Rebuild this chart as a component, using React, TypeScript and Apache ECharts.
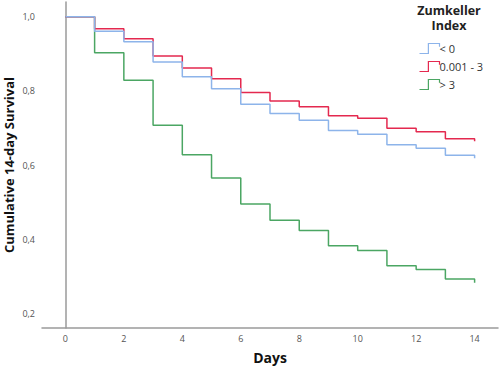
import React, { useEffect, useRef } from "react";
import * as echarts from "echarts";

const days = [0, 1, 2, 3, 4, 5, 6, 7, 8, 9, 10, 11, 12, 13, 14];
const seriesNames = ["< 0", "0.001 - 3", "> 3"];
const survivalNeg = [1.0, 0.961, 0.933, 0.878, 0.838, 0.806, 0.764, 0.739, 0.721, 0.693, 0.683, 0.655, 0.645, 0.626, 0.618];
const survivalMid = [1.0, 0.968, 0.941, 0.894, 0.862, 0.833, 0.796, 0.773, 0.757, 0.733, 0.726, 0.699, 0.69, 0.671, 0.664];
const survivalHigh = [1.0, 0.903, 0.829, 0.707, 0.628, 0.565, 0.495, 0.451, 0.423, 0.382, 0.369, 0.328, 0.318, 0.292, 0.282];
const xTicks = [0, 2, 4, 6, 8, 10, 12, 14];
const yTicks = [0.2, 0.4, 0.6, 0.8, 1.0];
const colors = ["#8db4ea", "#e4294f", "#4ba663"];

const FONT = "'Open Sans', 'DejaVu Sans', sans-serif";
const STEP_ICON = "path://M0,10 L8,10 L8,1 L18,1 L18,4";

export default function App() {
  const ref = useRef<HTMLDivElement>(null);
  useEffect(() => {
    if (!ref.current) return;
    const chart = echarts.init(ref.current, undefined, { renderer: "svg" });
    const allData = [survivalNeg, survivalMid, survivalHigh];
    chart.setOption({
      animation: false,
      backgroundColor: "#ffffff",
      textStyle: { fontFamily: FONT },
      grid: { left: 42, right: 2, top: 2, bottom: 41, containLabel: false, outerBoundsMode: "none" },
      graphic: [
        {
          type: "text",
          x: 449,
          y: 3,
          style: {
            text: "Zumkeller\nIndex",
            align: "center",
            verticalAlign: "top",
            font: `bold 12.5px ${FONT}`,
            lineHeight: 15,
            fill: "#222",
          },
        },
      ],
      legend: {
        orient: "vertical",
        left: 412,
        top: 36,
        itemWidth: 20,
        itemHeight: 10,
        itemGap: 3,
        icon: STEP_ICON,
        textStyle: { fontSize: 11, color: "#333", fontFamily: FONT, padding: [0, 0, 0, -5] },
        data: seriesNames.map((n, i) => ({
          name: n,
          itemStyle: { color: "none", borderColor: colors[i], borderWidth: 1.2 },
        })),
      },
      xAxis: {
        type: "value",
        min: -0.8,
        max: 14.8,
        name: "Days",
        nameLocation: "middle",
        nameGap: 22,
        nameMoveOverlap: false,
        nameTextStyle: { fontSize: 14, fontWeight: "bold", color: "#111", fontFamily: FONT },
        axisLine: { show: true, lineStyle: { color: "#9a9a9a", width: 1.5 } },
        axisTick: { show: false },
        splitLine: { show: false },
        axisLabel: {
          customValues: xTicks,
          fontSize: 9,
          color: "#555",
          margin: 6,
          fontFamily: FONT,
        },
      },
      yAxis: {
        type: "value",
        min: 0.16,
        max: 1.04,
        name: "Cumulative 14-day Survival",
        nameLocation: "middle",
        nameGap: 27,
        nameMoveOverlap: false,
        nameTextStyle: { fontSize: 13, lineHeight: 13, fontWeight: "bold", color: "#111", fontFamily: FONT },
        axisLine: { show: true, lineStyle: { color: "#9a9a9a", width: 1.5 } },
        axisTick: { show: false },
        splitLine: { show: false },
        axisLabel: {
          customValues: yTicks,
          fontSize: 9,
          color: "#555",
          margin: 7,
          fontFamily: FONT,
          formatter: (v: number) => v.toFixed(1).replace(".", ","),
        },
      },
      series: seriesNames.map((n, i) => ({
        name: n,
        type: "line",
        step: "end",
        showSymbol: false,
        symbol: "none",
        data: days.map((d, j) => [d, allData[i][j]]),
        lineStyle: { color: colors[i], width: 1.5 },
        itemStyle: { color: colors[i] },
        z: 3 - i,
      })),
    });
    return () => chart.dispose();
  }, []);
  return <div ref={ref} style={{ width: 500, height: 369, position: "absolute", left: 0, top: 0 }} />;
}
